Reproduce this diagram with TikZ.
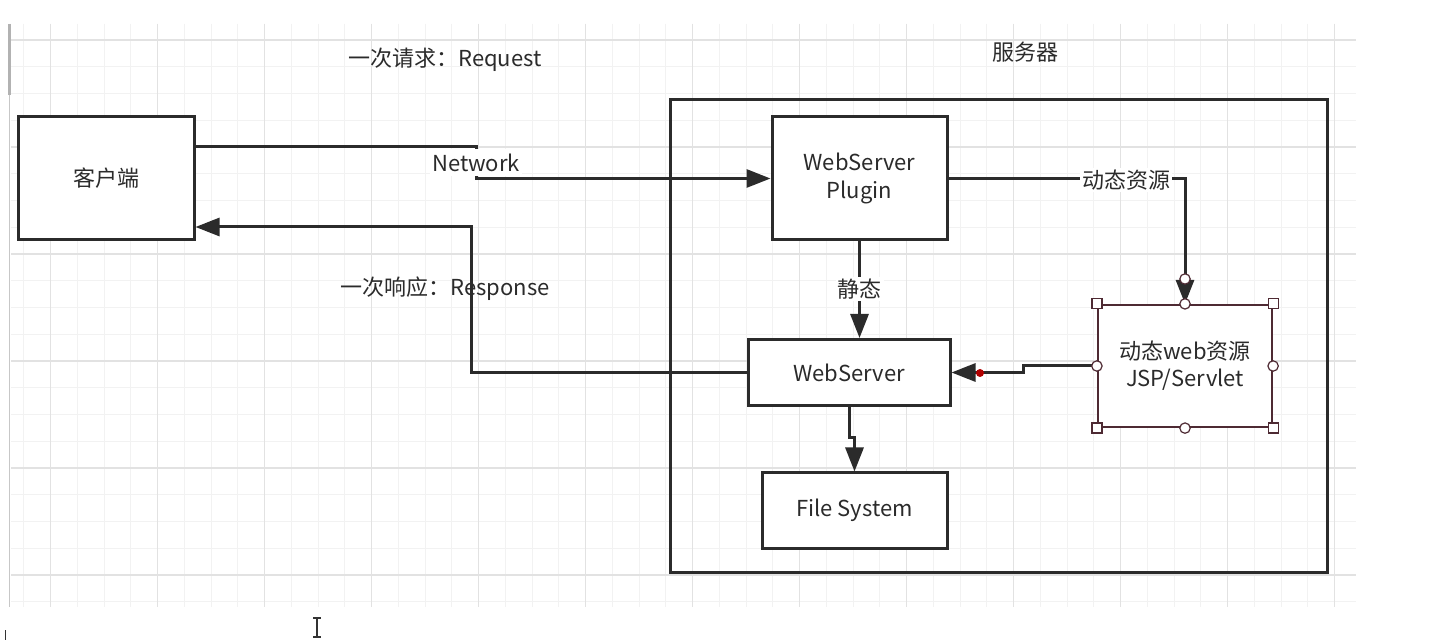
\documentclass[tikz,border=0pt]{standalone}
\usepackage{fontspec}
\setmainfont{Noto Sans CJK SC}
\usepackage{tikz}
\usetikzlibrary{calc,positioning,arrows,arrows.meta}
\definecolor{inkgray}{HTML}{2B2B2B}
\definecolor{selbox}{HTML}{4E2A33}
\definecolor{gridmin}{HTML}{F2F2F2}
\definecolor{gridmaj}{HTML}{E2E2E2}
\begin{document}
\begin{tikzpicture}[x=0.5pt, y=-0.5pt, font=\fontsize{11}{13.5}\selectfont, text=inkgray]
\tikzstyle{box}=[rectangle, draw=inkgray, line width=1.5pt, fill=white, align=center, inner sep=2pt]
\tikzstyle{conn}=[draw=inkgray, line width=1.5pt, -{Triangle[length=12pt,width=9pt]}]
\tikzstyle{lbl}=[inner sep=1pt]
\tikzstyle{handle}=[draw=selbox, fill=white, line width=0.6pt]
\useasboundingbox (0,0) rectangle (1444,640);
\fill[white] (0,0) rectangle (1444,640);
\begin{scope}
\clip (11,24) rectangle (1356,607);
\foreach \i in {-1,...,50} \draw[gridmin, line width=0.5pt] ({50.5+26.75*\i},24) -- ++(0,583);
\foreach \j in {-1,...,22} \draw[gridmin, line width=0.5pt] (11,{40+26.75*\j}) -- ++(1345,0);
\foreach \i in {0,...,12} \draw[gridmaj, line width=0.6pt] ({50.5+107*\i},24) -- ++(0,583);
\foreach \j in {0,...,5} \draw[gridmaj, line width=0.6pt] (11,{40+107*\j}) -- ++(1345,0);
\end{scope}
\draw[black!22, line width=0.8pt] (9.5,24) -- (9.5,607);
\draw[black!30, line width=1.6pt] (9.5,24) -- (9.5,95);

\node[box, minimum width=88pt, minimum height=61.5pt] (client) at (106,178.5) {客户端};
\node[box, fill=none, minimum width=328.5pt, minimum height=236pt] (server) at (998.5,336) {};
\node[box, minimum width=87.5pt, minimum height=61.5pt] (plugin) at (859.5,178.5) {WebServer\\Plugin};
\node[box, minimum width=101pt, minimum height=33pt] (web) at (849,372.5) {WebServer};
\node[box, minimum width=92.5pt, minimum height=37.5pt] (fs) at (854.5,510.5) {File System};
\node[box, draw=selbox, line width=1.1pt, minimum width=87pt, minimum height=61pt] (dyn) at (1185,366) {动态web资源\\JSP/Servlet};

\node[lbl] (req) at (445,60) {一次请求：Request};
\node[lbl] (resp) at (445,289) {一次响应：Response};
\node[lbl] (srvname) at (1025,52) {服务器};

\coordinate (netbend) at (476,147);
\coordinate (respbend) at (471,227);
\draw[conn] ([yshift=15.75pt]client.east) -- (netbend) -- (netbend |- plugin.west) -- (plugin.west);
\node[lbl, fill=white, inner ysep=0pt, minimum height=13.6pt] (net) at (476,162.75) {Network};
\draw[conn] (web.west) -- (respbend |- web.west) -- (respbend) -- (client.east |- respbend);
\draw[conn] (plugin.south) -- (plugin.south |- web.north);
\node[lbl, fill=white] (static) at (859.5,289) {静态};
\draw[conn] (plugin.east) -| (dyn.north);
\node[lbl, fill=white] (dynres) at (1126,180) {动态资源};
\draw[conn] (dyn.west) -- (1023,366) -- (1023,372.5) -- (web.east);
\draw[conn] (web.south) -- (849,438) -| (fs.north);

\foreach \a in {north west,north east,south west,south east}
  \draw[handle] ($(dyn.\a)+(-5,-5)$) rectangle ++(10,10);
\foreach \a in {north,south,east,west}
  \draw[handle] (dyn.\a) circle (2.6pt);
\draw[handle] (1185,279) circle (2.6pt);
\fill[red!70!black] (980,373) circle (2pt);

\draw[black!80, line width=0.6pt] (317,618) -- (317,637) (313,618) -- (321,618) (313,637) -- (321,637);
\draw[black!80, line width=0.6pt] (5.5,630) -- (5.5,640);
\end{tikzpicture}
\end{document}
